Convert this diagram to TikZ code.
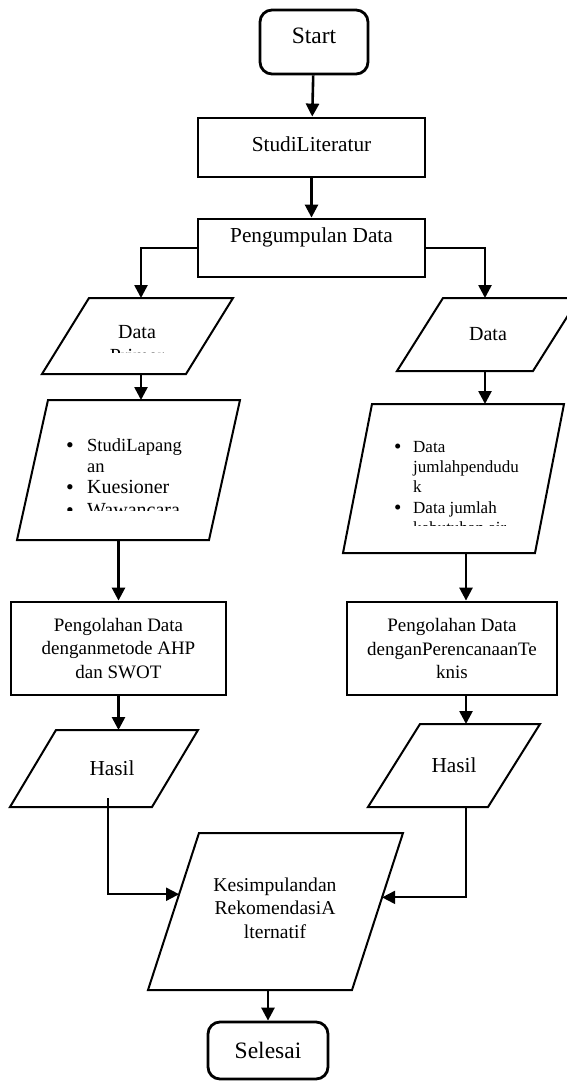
\documentclass[tikz,border=0pt]{standalone}
\usepackage{fontspec}
\setmainfont{Liberation Serif}
\usetikzlibrary{arrows.meta,calc}

\tikzset{
  term/.style={draw, line width=2.8pt, rounded corners=12pt, inner sep=0pt, align=center, font=\fontsize{23.5}{28}\selectfont},
  proc/.style={draw, line width=2.8pt, inner sep=0pt, align=center, font=\fontsize{21.3}{25}\selectfont},
  work/.style={proc, font=\fontsize{19}{23.5}\selectfont},
  io/.style={inner sep=0pt, outer sep=0pt, align=center, font=\fontsize{20}{23.5}\selectfont},
  item/.style={anchor=base west, inner sep=0pt, font=\fontsize{18.5}{22}\selectfont},
  dot/.style={anchor=base west, inner sep=0pt, font=\fontsize{22}{22}\selectfont},
  para/.style={line width=2pt, line join=miter},
  arr/.style={line width=2.6pt, -{Triangle[length=13pt,width=13pt]}},
  link/.style={line width=1.9pt, -{Triangle[length=13pt,width=13pt]}},
}

% parallelogram drawn over a plain node: name, slant
\newcommand{\iobox}[2]{%
  \coordinate (#1-tl) at ($(#1.north west)+(#2,0)$);
  \coordinate (#1-br) at ($(#1.south east)+(-#2,0)$);
  \draw[para] (#1-tl) -- (#1.north east) -- (#1-br) -- (#1.south west) -- cycle;}

\begin{document}
\begin{tikzpicture}[x=1pt,y=-1pt]
        \useasboundingbox (0,0) rectangle (567,1081);
        \clip (0,0) rectangle (567,1081);

        \node[term, minimum width=108pt, minimum height=64pt, text height=16pt, text depth=12pt] (start) at (314,42) {Start};
        \node[proc, minimum width=227pt, minimum height=59pt, text height=14pt, text depth=7pt] (lit) at (311.5,147.5) {StudiLiteratur};
        \node[proc, minimum width=227pt, minimum height=58pt, text height=14pt, text depth=26pt] (kumpul) at (311.5,248) {Pengumpulan Data};

        % Left branch
        \node[io, minimum width=191pt, minimum height=76pt] (primer) at (137.5,336) {};
        \iobox{primer}{47}
        \begin{scope}
          \clip (60,300) rectangle (225,352); % text box cut-off
          \node[io] (primertxt) at (137,344) {Data\\Primer};
        \end{scope}

        \node[io, minimum width=223pt, minimum height=140pt] (listA) at (128.5,470) {};
        \iobox{listA}{31}
        \begin{scope}
          \clip (40,405) rectangle (232,510); % text box cut-off
          \node[dot] (dotA1) at (66,452) {\textbullet};
          \node[item] (itA1) at (87,451) {StudiLapang};
          \node[item] (itA2) at (87,472) {an};
          \node[dot] (dotA2) at (66,494) {\textbullet};
          \node[item, font=\fontsize{20}{24}\selectfont] (itA3) at (87,493) {Kuesioner};
          \node[dot] (dotA3) at (66,517) {\textbullet};
          \node[item, font=\fontsize{20}{24}\selectfont] (itA4) at (87,516) {Wawancara};
        \end{scope}

        \node[work, minimum width=215pt, minimum height=93pt] (olahA) at (118.5,648.5) {Pengolahan Data\\denganmetode AHP\\dan SWOT};

        \node[io, minimum width=188pt, minimum height=77pt] (hasilA) at (104,768.5) {};
        \iobox{hasilA}{46}
        \node[io, font=\fontsize{21.3}{25}\selectfont] (hasilAtxt) at (112,768) {Hasil};

        % Right branch
        \node[io, minimum width=182pt, minimum height=73pt] (sekunder) at (488,334.5) {Data};
        \iobox{sekunder}{46}

        \node[io, minimum width=221pt, minimum height=149pt] (listB) at (453.5,478.5) {};
        \iobox{listB}{29}
        \begin{scope}[every node/.style={item, font=\fontsize{17}{20.5}\selectfont}]
          \clip (360,410) rectangle (560,525); % text box cut-off
          \node[dot, font=\fontsize{21}{21}\selectfont] (dotB1) at (394,453) {\textbullet};
          \node (itB1) at (413,452) {Data};
          \node (itB2) at (413,472) {jumlahpendudu};
          \node (itB3) at (413,492) {k};
          \node[dot, font=\fontsize{21}{21}\selectfont] (dotB2) at (394,514) {\textbullet};
          \node (itB4) at (413,513) {Data jumlah};
          \node (itB5) at (413,533) {kebutuhan air};
        \end{scope}

        \node[work, minimum width=210pt, minimum height=93pt] (olahB) at (452,648.5) {Pengolahan Data\\denganPerencanaanTe\\knis};

        \node[io, font=\fontsize{21.3}{25}\selectfont, minimum width=172pt, minimum height=83pt] (hasilB) at (454,765.5) {Hasil};
        \iobox{hasilB}{52}

        % End
        \node[io, minimum width=255pt, minimum height=157pt] (simpul) at (275.5,911.5) {};
        \iobox{simpul}{51}
        \node[io, font=\fontsize{19.6}{23.5}\selectfont] (simpultxt) at (275,908) {Kesimpulandan\\RekomendasiA\\lternatif};

        \node[term, minimum width=120pt, minimum height=57pt] (selesai) at (268,1050.5) {Selesai};

        % Arrows
        \draw[arr] (start) -- (lit);
        \draw[arr] (lit) -- (kumpul);
        \draw[arr] (kumpul.west) -| ([xshift=3.5pt]primer.north);
        \draw[arr] (kumpul.east) -| ([xshift=-3pt]sekunder.north);
        \draw[arr] ([xshift=3.5pt]primer.south) -- ([xshift=3.5pt]primer.south |- listA.north);
        \draw[arr] ([xshift=-3pt]sekunder.south) -- ([xshift=-3pt]sekunder.south |- listB.north);
        \draw[arr] (olahA.north |- listA.south) -- (olahA.north);
        \draw[arr] ([xshift=14pt]olahB.north |- listB.south) -- ([xshift=14pt]olahB.north);
        \draw[arr] (olahA.south) -- (olahA.south |- hasilA.north);
        \draw[arr] ([xshift=14pt]olahB.south) -- ([xshift=14pt]olahB.south |- hasilB.north);
        \draw[link] ($(hasilA.south)+(4,-9)$) |- ($(simpul.south west)!0.61!(simpul-tl)$);
        \draw[link] ($(hasilB.south)+(12,0)$) |- ($(simpul-br)!0.59!(simpul.north east)$);
        \draw[arr] (selesai.north |- simpul.south) -- (selesai.north);
\end{tikzpicture}
\end{document}
